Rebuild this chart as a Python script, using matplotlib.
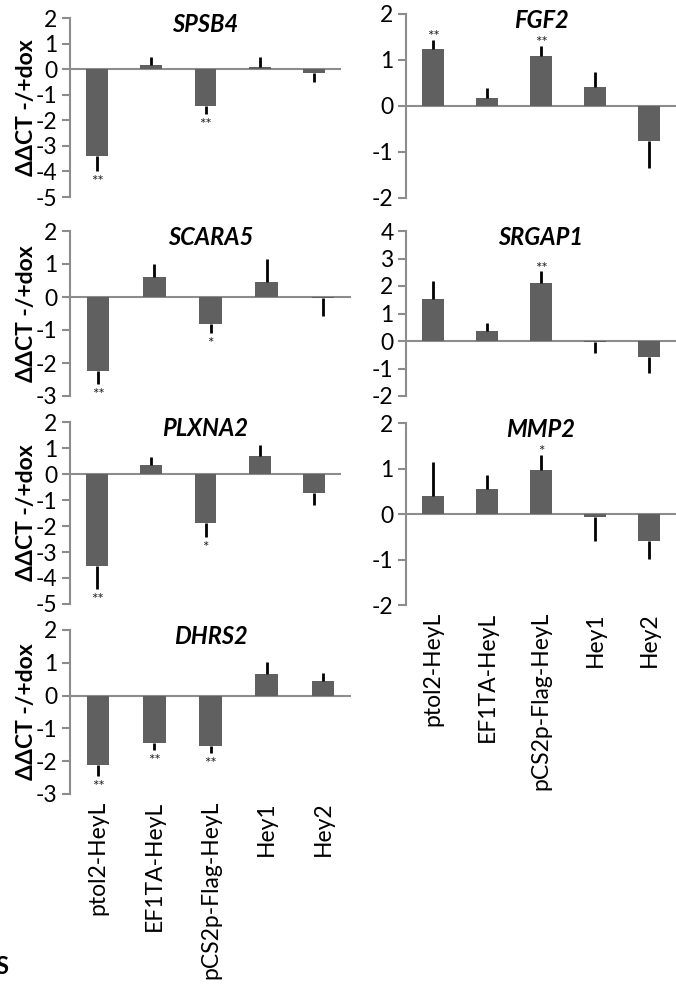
import numpy as np
import matplotlib
matplotlib.use("Agg")
import matplotlib.pyplot as plt

plt.rcParams['font.family'] = ['Lato', 'DejaVu Sans']
plt.rcParams['axes.unicode_minus'] = False

# --- data ---
groups = ["ptol2-HeyL", "EF1TA-HeyL", "pCS2p-Flag-HeyL", "Hey1", "Hey2"]

spsb4 = [-3.39, 0.17, -1.46, 0.08, -0.14]
spsb4_err = [0.58, 0.29, 0.30, 0.41, 0.38]
spsb4_sig = ["**", "", "**", "", ""]

scara5 = [-2.25, 0.61, -0.83, 0.46, -0.03]
scara5_err = [0.38, 0.40, 0.26, 0.70, 0.56]
scara5_sig = ["**", "", "*", "", ""]

plxna2 = [-3.52, 0.36, -1.87, 0.71, -0.73]
plxna2_err = [0.90, 0.28, 0.55, 0.41, 0.48]
plxna2_sig = ["**", "", "*", "", ""]

dhrs2 = [-2.11, -1.43, -1.54, 0.66, 0.44]
dhrs2_err = [0.33, 0.23, 0.20, 0.35, 0.25]
dhrs2_sig = ["**", "**", "**", "", ""]

fgf2 = [1.24, 0.18, 1.08, 0.42, -0.76]
fgf2_err = [0.20, 0.21, 0.23, 0.31, 0.59]
fgf2_sig = ["**", "", "**", "", ""]

srgap1 = [1.54, 0.35, 2.10, -0.02, -0.58]
srgap1_err = [0.63, 0.30, 0.43, 0.40, 0.60]
srgap1_sig = ["", "", "**", "", ""]

mmp2 = [0.40, 0.56, 0.97, -0.07, -0.60]
mmp2_err = [0.74, 0.30, 0.32, 0.52, 0.38]
mmp2_sig = ["", "", "*", "", ""]

W, H = 676, 990
fig = plt.figure(figsize=(W / 100, H / 100), dpi=100)

GRAY = "#8c8c8c"
BAR = "#606060"
TICK_FS = 16.5


def panel(px_left, px_right, px_top, px_bottom, title, vals, errs, sig,
          ylim, ylabel=False, xlabels=False):
    ax = fig.add_axes([px_left / W, 1 - px_bottom / H,
                       (px_right - px_left) / W, (px_bottom - px_top) / H])
    x = np.arange(len(vals))
    vals = np.array(vals)
    errs = np.array(errs)
    ax.bar(x, vals, width=0.4, color=BAR, zorder=2)
    # one-sided error bars, pointing away from zero
    ends = vals + np.sign(vals) * errs
    for xi, v, e in zip(x, vals, ends):
        ax.plot([xi, xi], [v, e], color="black", lw=2, solid_capstyle="butt", zorder=3)
    for xi, v, e, s in zip(x, vals, ends, sig):
        if not s:
            continue
        if v < 0:
            ax.annotate(s, (xi, e), xytext=(0, -3), textcoords="offset points",
                        ha="center", va="top", fontsize=11, color="#222222")
        else:
            ax.annotate(s, (xi, e), xytext=(0, -3), textcoords="offset points",
                        ha="center", va="bottom", fontsize=11, color="#222222")
    ax.axhline(0, color=GRAY, lw=1.5, zorder=1)
    ax.set_xlim(-0.5, len(vals) - 0.5)
    ax.set_ylim(*ylim)
    ax.set_yticks(np.arange(ylim[0], ylim[1] + 1))
    for sp in ["top", "right", "bottom"]:
        ax.spines[sp].set_visible(False)
    ax.spines["left"].set_color(GRAY)
    ax.spines["left"].set_linewidth(1.5)
    ax.tick_params(axis="y", direction="out", length=6, width=1.5, color=GRAY,
                   labelsize=TICK_FS, pad=3)
    ax.tick_params(axis="x", length=0, labelsize=TICK_FS, pad=5)
    ax.set_xticks(x)
    if xlabels:
        ax.set_xticklabels(groups, rotation=90, va="top")
    else:
        ax.set_xticklabels([])
    # title baseline about 14 px below the top of the plot area
    ax.text(0.5, 1 - 14 / (px_bottom - px_top), title, transform=ax.transAxes,
            ha="center", va="baseline", fontsize=17, fontweight="bold",
            fontstyle="italic")
    if ylabel:
        fig.text(27 / W, 1 - (px_top + px_bottom) / 2 / H, "ΔΔCT -/+dox",
                 rotation=90, ha="center", va="center", fontsize=16.5,
                 fontweight="bold")
    return ax


a1 = panel(70, 341, 18, 197, "SPSB4", spsb4, spsb4_err, spsb4_sig, (-5, 2), ylabel=True)
a2 = panel(70, 351, 231, 396, "SCARA5", scara5, scara5_err, scara5_sig, (-3, 2), ylabel=True)
a3 = panel(70, 341, 422, 604, "PLXNA2", plxna2, plxna2_err, plxna2_sig, (-5, 2), ylabel=True)
a4 = panel(70, 351, 630, 794, "DHRS2", dhrs2, dhrs2_err, dhrs2_sig, (-3, 2), ylabel=True,
           xlabels=True)

b1 = panel(406, 676, 14, 198, "FGF2", fgf2, fgf2_err, fgf2_sig, (-2, 2))
b2 = panel(406, 676, 231, 396, "SRGAP1", srgap1, srgap1_err, srgap1_sig, (-2, 4))
b3 = panel(406, 676, 423, 605, "MMP2", mmp2, mmp2_err, mmp2_sig, (-2, 2), xlabels=True)

# clipped panel letter at the bottom-left edge
fig.text(8 / W, 1 - 967 / H, "S", ha="right", va="center", fontsize=17, fontweight="bold")

fig.savefig("out.png", dpi=100)
